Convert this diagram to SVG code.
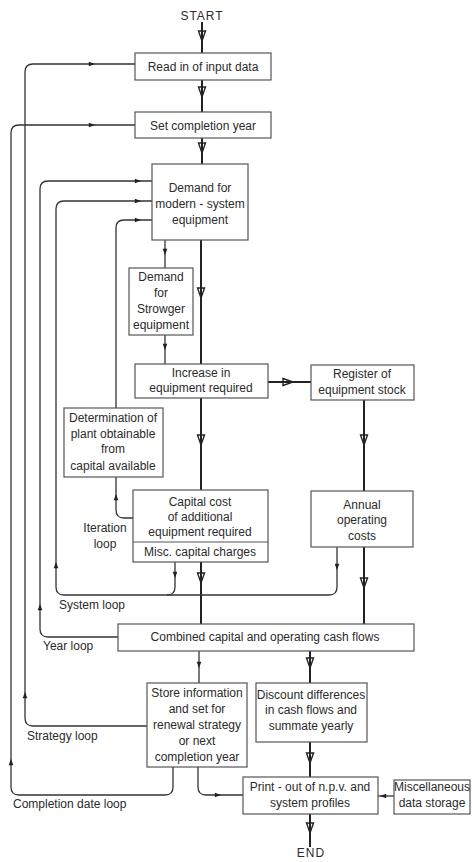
<svg xmlns="http://www.w3.org/2000/svg" xmlns:xlink="http://www.w3.org/1999/xlink" width="473" height="862" viewBox="0 0 473 862">
<style>
text{font-family:"Liberation Sans",Arial,sans-serif;font-size:12px;fill:#2b2b2b;text-anchor:middle}
.lbl{text-anchor:start}
.box{fill:#fff;stroke:#555;stroke-width:1.2}
.main{fill:none;stroke:#222;stroke-width:2}
.loop{fill:none;stroke:#333;stroke-width:1.3}
.oa{fill:none;stroke:#222;stroke-width:1.4}
.sa{fill:#222}
</style>
<defs>
<path id="oah" d="M-5,-3.5 L5,0 L-5,3.5 Z"/>
<path id="sah" d="M-3.2,-2.3 L3.2,0 L-3.2,2.3 Z"/>
</defs>
<rect width="473" height="862" fill="#fff"/>

<g id="connectors">
  <!-- main flow -->
  <path class="main" d="M202,22 V53"/>
  <path class="main" d="M202,80 V112"/>
  <path class="main" d="M202,138 V164"/>
  <path class="main" d="M201,240 V364"/>
  <path class="main" d="M268,382 H311"/>
  <path class="main" d="M364,400 V491"/>
  <path class="main" d="M201,398 V490"/>
  <path class="main" d="M201,562 V624"/>
  <path class="main" d="M364,547 V624"/>
  <path class="main" d="M310,651 V683"/>
  <path class="main" d="M310,742 V777"/>
  <path class="main" d="M310,814 V847"/>
  <use href="#oah" class="oa" transform="translate(202,36) rotate(90)"/>
  <use href="#oah" class="oa" transform="translate(202,92) rotate(90)"/>
  <use href="#oah" class="oa" transform="translate(202,148) rotate(90)"/>
  <use href="#oah" class="oa" transform="translate(201,293) rotate(90)"/>
  <use href="#oah" class="oa" transform="translate(288,382)"/>
  <use href="#oah" class="oa" transform="translate(364,440) rotate(90)"/>
  <use href="#oah" class="oa" transform="translate(201,440) rotate(90)"/>
  <use href="#oah" class="oa" transform="translate(201,578) rotate(90)"/>
  <use href="#oah" class="oa" transform="translate(364,583) rotate(90)"/>
  <use href="#oah" class="oa" transform="translate(310,663) rotate(90)"/>
  <use href="#oah" class="oa" transform="translate(310,758) rotate(90)"/>
  <use href="#oah" class="oa" transform="translate(310,828) rotate(90)"/>

  <!-- thin links -->
  <path class="loop" d="M165,240 V268"/>
  <path class="loop" d="M165,335 V364"/>
  <path class="loop" d="M199,651 V683"/>
  <path class="loop" d="M394,796 H378"/>
  <path class="loop" d="M198,767 V787 Q198,795 206,795 H243"/>
  <use href="#sah" class="sa" transform="translate(165,252) rotate(90)"/>
  <use href="#sah" class="sa" transform="translate(165,347) rotate(90)"/>
  <use href="#sah" class="sa" transform="translate(199,665) rotate(90)"/>
  <use href="#sah" class="sa" transform="translate(383,796) rotate(180)"/>
  <use href="#sah" class="sa" transform="translate(218,795)"/>

  <!-- strategy loop -->
  <path class="loop" d="M147,726 H33 Q25,726 25,718 V72 Q25,64 33,64 H135"/>
  <use href="#sah" class="sa" transform="translate(92,64)"/>
  <use href="#sah" class="sa" transform="translate(25,695) rotate(-90)"/>
  <!-- completion date loop -->
  <path class="loop" d="M173,767 V787 Q173,795 165,795 H19 Q11,795 11,787 V133 Q11,125 19,125 H135"/>
  <use href="#sah" class="sa" transform="translate(92,125)"/>
  <use href="#sah" class="sa" transform="translate(11,762) rotate(-90)"/>
  <!-- year loop -->
  <path class="loop" d="M118,637 H48 Q40,637 40,629 V189 Q40,181 48,181 H152"/>
  <use href="#sah" class="sa" transform="translate(40,607) rotate(-90)"/>
  <use href="#sah" class="sa" transform="translate(138,181)"/>
  <!-- system loop -->
  <path class="loop" d="M337,547 V587 Q337,595 329,595 H64 Q56,595 56,587 V209 Q56,201 64,201 H152"/>
  <path class="loop" d="M175,562 V587 Q175,595 167,595"/>
  <use href="#sah" class="sa" transform="translate(175,575) rotate(90)"/>
  <use href="#sah" class="sa" transform="translate(337,567) rotate(90)"/>
  <use href="#sah" class="sa" transform="translate(56,565) rotate(-90)"/>
  <use href="#sah" class="sa" transform="translate(138,201)"/>
  <!-- iteration loop -->
  <path class="loop" d="M133,518 H124 Q116,518 116,510 V477"/>
  <path class="loop" d="M116,408 V228 Q116,220 124,220 H152"/>
  <use href="#sah" class="sa" transform="translate(116,497) rotate(-90)"/>
  <use href="#sah" class="sa" transform="translate(138,220)"/>
</g>

<g id="start"><text x="202" y="20" letter-spacing="1">START</text></g>
<g id="end"><text x="311" y="857" font-size="11" letter-spacing="1">END</text></g>

<g id="read-input">
  <rect class="box" x="135" y="53" width="136" height="27"/>
  <text x="203" y="71">Read in of input data</text>
</g>
<g id="set-completion">
  <rect class="box" x="135" y="112" width="136" height="26"/>
  <text x="203" y="129.5">Set completion year</text>
</g>
<g id="demand-modern">
  <rect class="box" x="152" y="164" width="96" height="76"/>
  <text x="200" y="192">Demand for</text>
  <text x="200" y="208">modern - system</text>
  <text x="200" y="224">equipment</text>
</g>
<g id="demand-strowger">
  <rect class="box" x="129" y="268" width="64" height="67"/>
  <text x="161" y="281">Demand</text>
  <text x="161" y="297">for</text>
  <text x="161" y="313">Strowger</text>
  <text x="161" y="329">equipment</text>
</g>
<g id="increase">
  <rect class="box" x="135" y="364" width="133" height="34"/>
  <text x="201" y="377">Increase in</text>
  <text x="201" y="392">equipment required</text>
</g>
<g id="register">
  <rect class="box" x="311" y="365" width="103" height="35"/>
  <text x="362" y="378">Register of</text>
  <text x="362" y="394">equipment stock</text>
</g>
<g id="determination">
  <rect class="box" x="64" y="408" width="99" height="69"/>
  <text x="113" y="422">Determination of</text>
  <text x="113" y="438">plant obtainable</text>
  <text x="113" y="453">from</text>
  <text x="113" y="470">capital available</text>
</g>
<g id="capital-cost">
  <rect class="box" x="133" y="490" width="135" height="72"/>
  <line x1="133" y1="542" x2="268" y2="542" stroke="#555" stroke-width="1.2"/>
  <text x="200" y="506">Capital cost</text>
  <text x="200" y="521">of additional</text>
  <text x="200" y="536">equipment required</text>
  <text x="200" y="556">Misc. capital charges</text>
</g>
<g id="annual">
  <rect class="box" x="311" y="491" width="102" height="56"/>
  <text x="362" y="509">Annual</text>
  <text x="362" y="524">operating</text>
  <text x="362" y="540">costs</text>
</g>
<g id="combined">
  <rect class="box" x="118" y="624" width="296" height="27"/>
  <text x="265" y="641">Combined capital and operating cash flows</text>
</g>
<g id="store">
  <rect class="box" x="147" y="683" width="100" height="84"/>
  <text x="197" y="697">Store information</text>
  <text x="197" y="713">and set for</text>
  <text x="197" y="729">renewal strategy</text>
  <text x="197" y="745">or next</text>
  <text x="197" y="761">completion year</text>
</g>
<g id="discount">
  <rect class="box" x="256" y="683" width="111" height="59"/>
  <text x="311" y="699">Discount differences</text>
  <text x="311" y="714">in cash flows and</text>
  <text x="311" y="730">summate yearly</text>
</g>
<g id="print">
  <rect class="box" x="243" y="777" width="135" height="37"/>
  <text x="310" y="791">Print - out of n.p.v. and</text>
  <text x="310" y="807">system profiles</text>
</g>
<g id="misc">
  <rect class="box" x="394" y="780" width="76" height="34"/>
  <text x="432" y="791">Miscellaneous</text>
  <text x="432" y="807">data storage</text>
</g>

<g id="labels">
  <text x="105" y="532">Iteration</text>
  <text x="105" y="548">loop</text>
  <text class="lbl" x="59" y="609">System loop</text>
  <text class="lbl" x="43" y="650">Year loop</text>
  <text class="lbl" x="27" y="740">Strategy loop</text>
  <text class="lbl" x="13" y="808">Completion date loop</text>
</g>
</svg>
